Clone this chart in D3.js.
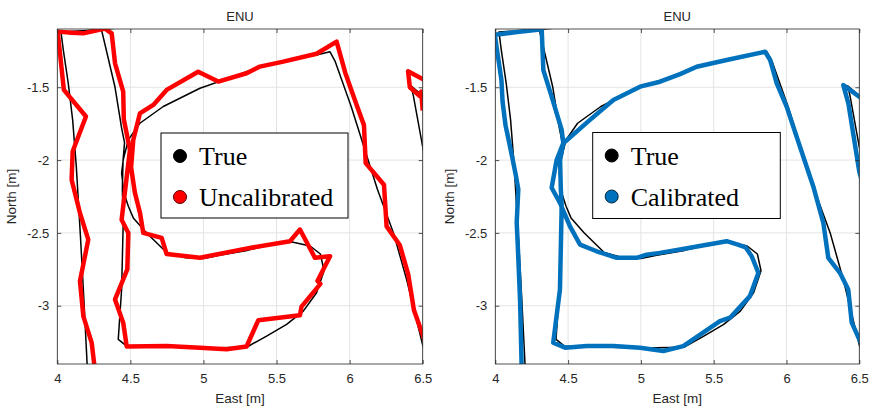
<!DOCTYPE html>
<html>
<head>
<meta charset="utf-8">
<script src="https://cdn.jsdelivr.net/npm/d3@7"></script>
<style>
  html, body { margin: 0; padding: 0; background: #fff; }
  svg { display: block; }
</style>
</head>
<body>
<svg id="chart" width="871" height="406"></svg>
<script>
// Tick values for both panels
const xTicks = [4, 4.5, 5, 5.5, 6, 6.5];
const yTicks = [-3, -2.5, -2, -1.5];

// Ground-truth track [east, north] in metres
const trueTrack = [
  [4.205,-3.42],[4.182,-2.957],[4.157,-2.5],[4.13,-2.043],[4.105,-1.724],[4.075,-1.473],
  [4.041,-1.244],[4.025,-1.12],[4.2,-1.11],[4.40,-1.095],[4.42,-1.07],[4.30,-1.07],
  [4.30,-1.095],[4.395,-1.5],[4.44,-1.78],[4.46,-1.88],[4.45,-2.0],[4.445,-2.2],
  [4.451,-2.43],[4.44,-2.888],[4.417,-3.231],[4.475,-3.277],[4.8,-3.285],[5.0,-3.29],
  [5.295,-3.285],[5.432,-3.208],[5.569,-3.128],[5.683,-3.037],[5.774,-2.911],[5.825,-2.76],
  [5.80,-2.645],[5.73,-2.59],[5.614,-2.564],[5.546,-2.562],[5.3,-2.62],[5.1,-2.655],
  [5.0,-2.675],[4.879,-2.671],[4.748,-2.635],[4.611,-2.5],[4.52,-2.397],[4.486,-2.317],
  [4.456,-2.226],[4.44,-2.089],[4.451,-1.998],[4.486,-1.861],[4.565,-1.747],[4.725,-1.632],
  [4.976,-1.507],[5.204,-1.427],[5.386,-1.358],[5.591,-1.313],[5.774,-1.279],[5.865,-1.256],
  [5.90,-1.32],[6.01,-1.63],[6.19,-2.2],[6.30,-2.5],[6.39,-2.82],[6.5,-3.27],[6.53,-3.38]
];
const trueStub = [[6.52,-1.575],[6.42,-1.49],[6.435,-1.553],[6.5,-1.91],[6.52,-2.0]];

// Uncalibrated estimate
const uncalTrack = [
  [4.255,-3.42],[4.235,-3.253],[4.178,-3.071],[4.155,-2.831],[4.212,-2.546],[4.155,-2.363],
  [4.098,-2.135],[4.105,-1.941],[4.196,-1.701],[4.045,-1.518],[4.007,-1.16],[4.003,-1.118],
  [4.10,-1.125],[4.178,-1.13],[4.326,-1.097],[4.372,-1.13],[4.395,-1.336],[4.451,-1.53],
  [4.455,-1.72],[4.497,-1.93],[4.44,-2.41],[4.486,-2.5],[4.479,-2.751],[4.395,-2.957],
  [4.451,-3.116],[4.475,-3.28],[4.748,-3.276],[4.976,-3.288],[5.158,-3.299],[5.295,-3.28],
  [5.375,-3.1],[5.66,-3.066],[5.671,-3.006],[5.80,-2.85],[5.78,-2.83],[5.866,-2.66],
  [5.763,-2.671],[5.66,-2.477],[5.592,-2.557],[5.318,-2.603],[4.976,-2.671],[4.748,-2.645],
  [4.714,-2.534],[4.588,-2.5],[4.566,-2.363],[4.53,-2.22],[4.505,-2.05],[4.52,-1.86],
  [4.565,-1.68],[4.657,-1.621],[4.748,-1.518],[4.964,-1.393],[5.101,-1.461],[5.295,-1.404],
  [5.386,-1.358],[5.546,-1.324],[5.774,-1.27],[5.911,-1.187],[5.97,-1.40],[6.04,-1.60],
  [6.098,-1.76],[6.11,-2.021],[6.235,-2.169],[6.253,-2.455],[6.344,-2.585],[6.401,-2.785],
  [6.44,-3.03],[6.499,-3.197],[6.52,-3.25]
];
const uncalStub = [[6.52,-1.455],[6.40,-1.39],[6.412,-1.50],[6.48,-1.56],[6.49,-1.53],[6.5,-1.66]];

// Calibrated estimate
const calTrack = [
  [4.181,-3.42],[4.17,-2.96],[4.155,-2.6],[4.147,-2.43],[4.158,-2.2],[4.14,-2.1],
  [4.11,-1.95],[4.07,-1.76],[4.05,-1.6],[4.042,-1.45],[3.998,-1.15],[4.0,-1.14],
  [4.15,-1.12],[4.307,-1.103],[4.325,-1.092],[4.319,-1.11],[4.33,-1.382],[4.387,-1.564],
  [4.456,-1.792],[4.467,-1.884],[4.445,-2.0],[4.45,-2.2],[4.456,-2.318],[4.444,-2.888],
  [4.398,-3.253],[4.479,-3.288],[4.628,-3.277],[4.811,-3.277],[4.994,-3.288],[5.154,-3.311],
  [5.291,-3.277],[5.543,-3.105],[5.612,-3.082],[5.749,-2.934],[5.807,-2.774],[5.761,-2.66],
  [5.72,-2.6],[5.666,-2.58],[5.589,-2.557],[5.269,-2.614],[5.131,-2.637],[5.04,-2.649],
  [4.971,-2.671],[4.834,-2.671],[4.696,-2.626],[4.582,-2.58],[4.513,-2.455],[4.444,-2.294],
  [4.387,-2.19],[4.421,-2.0],[4.467,-1.884],[4.65,-1.724],[4.811,-1.587],[4.994,-1.496],
  [5.131,-1.462],[5.269,-1.41],[5.383,-1.359],[5.589,-1.313],[5.853,-1.256],[5.888,-1.313],
  [5.933,-1.473],[6.001,-1.633],[6.092,-1.907],[6.184,-2.181],[6.253,-2.432],[6.287,-2.671],
  [6.367,-2.774],[6.424,-2.888],[6.448,-3.116],[6.505,-3.242],[6.52,-3.28]
];
const calStub = [[6.52,-1.58],[6.39,-1.485],[6.425,-1.61],[6.5,-2.08],[6.52,-2.15]];

const legendLabels = ["True", "Uncalibrated", "Calibrated"];

const svg = d3.select("#chart");
const axisColor = "#262626";
const sansFont = "'Liberation Sans', Arial, sans-serif";
const serifFont = "'Liberation Serif', 'Times New Roman', serif";
// plain hyphen-minus for negative tick labels
const tickFmt = d => String(d);

function drawPanel(opts) {
  const { id, left, right, top, bottom, tracks, color, edge, label, legendBox } = opts;
  const x = d3.scaleLinear().domain([4, 6.5]).range([left, right]);
  const y = d3.scaleLinear().domain([-3.4, -1.1]).range([bottom, top]);
  const g = svg.append("g");

  // grid
  g.append("g").selectAll("line").data(xTicks).join("line")
    .attr("x1", d => x(d)).attr("x2", d => x(d)).attr("y1", top).attr("y2", bottom)
    .attr("stroke", "#e3e3e3").attr("stroke-width", 1);
  g.append("g").selectAll("line").data(yTicks).join("line")
    .attr("y1", d => y(d)).attr("y2", d => y(d)).attr("x1", left).attr("x2", right)
    .attr("stroke", "#e3e3e3").attr("stroke-width", 1);

  // clip
  svg.append("defs").append("clipPath").attr("id", "clip-" + id)
    .append("rect").attr("x", left).attr("y", top)
    .attr("width", right - left).attr("height", bottom - top);

  const line = d3.line().x(d => x(d[0])).y(d => y(d[1]));
  const plot = g.append("g").attr("clip-path", `url(#clip-${id})`);
  plot.selectAll("path.truth").data([trueTrack, trueStub]).join("path")
    .attr("class", "truth").attr("d", line).attr("fill", "none")
    .attr("stroke", "#000").attr("stroke-width", 1.5).attr("stroke-linejoin", "round");
  plot.selectAll("path.est").data(tracks).join("path")
    .attr("class", "est").attr("d", line).attr("fill", "none")
    .attr("stroke", color).attr("stroke-width", 4.5)
    .attr("stroke-linejoin", "round").attr("stroke-linecap", "butt");

  // axes (box with inward ticks on all sides)
  const xb = d3.axisBottom(x).tickValues(xTicks).tickSizeInner(-4).tickSizeOuter(0).tickPadding(10).tickFormat(tickFmt);
  const yl = d3.axisLeft(y).tickValues(yTicks).tickSizeInner(-4).tickSizeOuter(0).tickPadding(8).tickFormat(tickFmt);
  const xt = d3.axisTop(x).tickValues(xTicks).tickSizeInner(-4).tickSizeOuter(0).tickFormat("");
  const yr = d3.axisRight(y).tickValues(yTicks).tickSizeInner(-4).tickSizeOuter(0).tickFormat("");
  const axes = [
    g.append("g").attr("transform", `translate(0,${bottom})`).call(xb),
    g.append("g").attr("transform", `translate(${left},0)`).call(yl),
    g.append("g").attr("transform", `translate(0,${top})`).call(xt),
    g.append("g").attr("transform", `translate(${right},0)`).call(yr)
  ];
  axes.forEach(a => {
    a.select(".domain").remove();
    a.selectAll("line").attr("stroke", axisColor).attr("stroke-width", 0.8);
    a.selectAll("text").attr("fill", axisColor).style("font-family", sansFont).style("font-size", "13px");
  });
  g.append("rect").attr("x", left).attr("y", top).attr("width", right - left).attr("height", bottom - top)
    .attr("fill", "none").attr("stroke", axisColor).attr("stroke-width", 0.8);

  // titles
  g.append("text").attr("x", (left + right) / 2).attr("y", 21).attr("text-anchor", "middle")
    .attr("fill", axisColor).style("font-family", sansFont).style("font-size", "13px").text("ENU");
  g.append("text").attr("x", (left + right) / 2).attr("y", 403).attr("text-anchor", "middle")
    .attr("fill", axisColor).style("font-family", sansFont).style("font-size", "13.5px").text("East [m]");
  g.append("text").attr("transform", `translate(${left - 41},${(top + bottom) / 2}) rotate(-90)`)
    .attr("text-anchor", "middle").attr("fill", axisColor)
    .style("font-family", sansFont).style("font-size", "13.5px").text("North [m]");

  // legend
  const lg = g.append("g");
  lg.append("rect").attr("x", legendBox[0]).attr("y", legendBox[1])
    .attr("width", legendBox[2]).attr("height", legendBox[3])
    .attr("fill", "#fff").attr("stroke", "#000").attr("stroke-width", 1);
  const entries = [
    { name: legendLabels[0], fill: "#000", stroke: "#000" },
    { name: label, fill: color, stroke: edge }
  ];
  const rows = lg.selectAll("g.row").data(entries).join("g").attr("class", "row")
    .attr("transform", (d, i) => `translate(${legendBox[0] + 19},${legendBox[1] + 23 + i * 41})`);
  rows.append("circle").attr("r", 6.5).attr("fill", d => d.fill)
    .attr("stroke", d => d.stroke).attr("stroke-width", 1);
  rows.append("text").attr("x", 19).attr("y", 9).attr("fill", "#000")
    .style("font-family", serifFont).style("font-size", "26px").text(d => d.name);
}

drawPanel({
  id: "left", left: 57.3, right: 422.7, top: 29, bottom: 364,
  tracks: [uncalTrack, uncalStub], color: "#ff0000", edge: "#550000",
  label: legendLabels[1], legendBox: [161, 133, 187, 85]
});
drawPanel({
  id: "right", left: 495.3, right: 859.3, top: 29, bottom: 364,
  tracks: [calTrack, calStub], color: "#0072bd", edge: "#00253d",
  label: legendLabels[2], legendBox: [592.7, 132.5, 187.6, 86]
});
</script>
</body>
</html>
